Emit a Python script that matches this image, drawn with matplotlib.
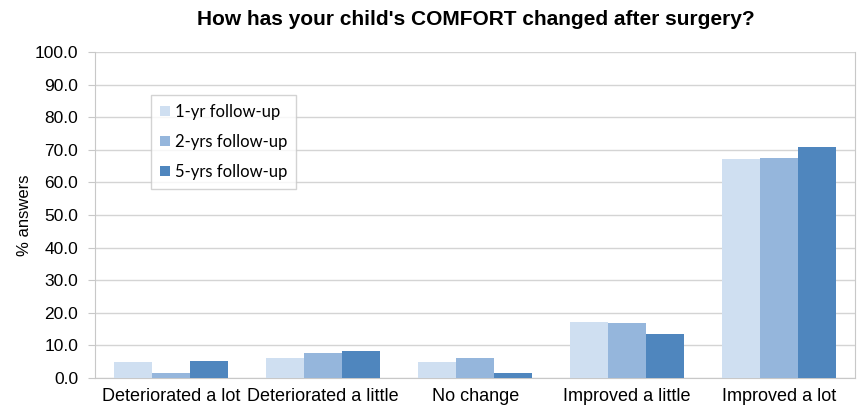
import matplotlib.pyplot as plt
import numpy as np

plt.rcParams['font.family'] = ['Liberation Sans', 'DejaVu Sans']

categories = ['Deteriorated a lot', 'Deteriorated a little', 'No change',
              'Improved a little', 'Improved a lot']
series_names = ['1-yr follow-up', '2-yrs follow-up', '5-yrs follow-up']
yr1 = [4.8, 6.2, 4.8, 17.3, 67.2]
yr2 = [1.5, 7.7, 6.0, 16.8, 67.4]
yr5 = [5.3, 8.3, 1.5, 13.5, 71.0]
colors = ['#cfdff1', '#95b6dc', '#4f86be']

fig = plt.figure(figsize=(8.6, 4.13), dpi=100)
ax = fig.add_axes([0.1105, 0.085, 0.884, 0.789])

x = np.arange(len(categories))
w = 0.25
for i, (vals, name) in enumerate(zip([yr1, yr2, yr5], series_names)):
    ax.bar(x + (i - 1) * w, vals, w, color=colors[i], label=name, zorder=3)

ax.set_xlim(-0.5, len(categories) - 0.5)
ax.set_ylim(0, 100)
ax.set_yticks(np.arange(0, 101, 10))
ax.set_yticklabels([f'{v:.1f}' for v in np.arange(0, 101, 10)], fontsize=12.5)
ax.set_xticks(x)
ax.set_xticklabels(categories, fontsize=13)
ax.tick_params(axis='x', length=0, pad=7)
ax.tick_params(axis='y', length=5, color='#c8c8c8', pad=7)
ax.grid(axis='y', color='#d4d4d4', linewidth=1, zorder=0)

ax.spines['top'].set_visible(False)
for s in ['left', 'bottom', 'right']:
    ax.spines[s].set_color('#c8c8c8')

ax.set_ylabel('% answers', fontsize=12, labelpad=2)
fig.text(0.553, 0.952, "How has your child's COMFORT changed after surgery?",
         ha='center', va='center', fontsize=15, fontweight='bold')

leg = ax.legend(loc='upper left', bbox_to_anchor=(0.074, 0.869), borderaxespad=0,
                frameon=True, fancybox=False, handlelength=0.55, handleheight=0.55,
                handletextpad=0.3, labelspacing=0.85, borderpad=0.55,
                prop={'family': ['Lato', 'DejaVu Sans'], 'size': 12})
leg.get_frame().set_edgecolor('#c8c8c8')
leg.get_frame().set_linewidth(1)

fig.savefig('out.png', dpi=100)
